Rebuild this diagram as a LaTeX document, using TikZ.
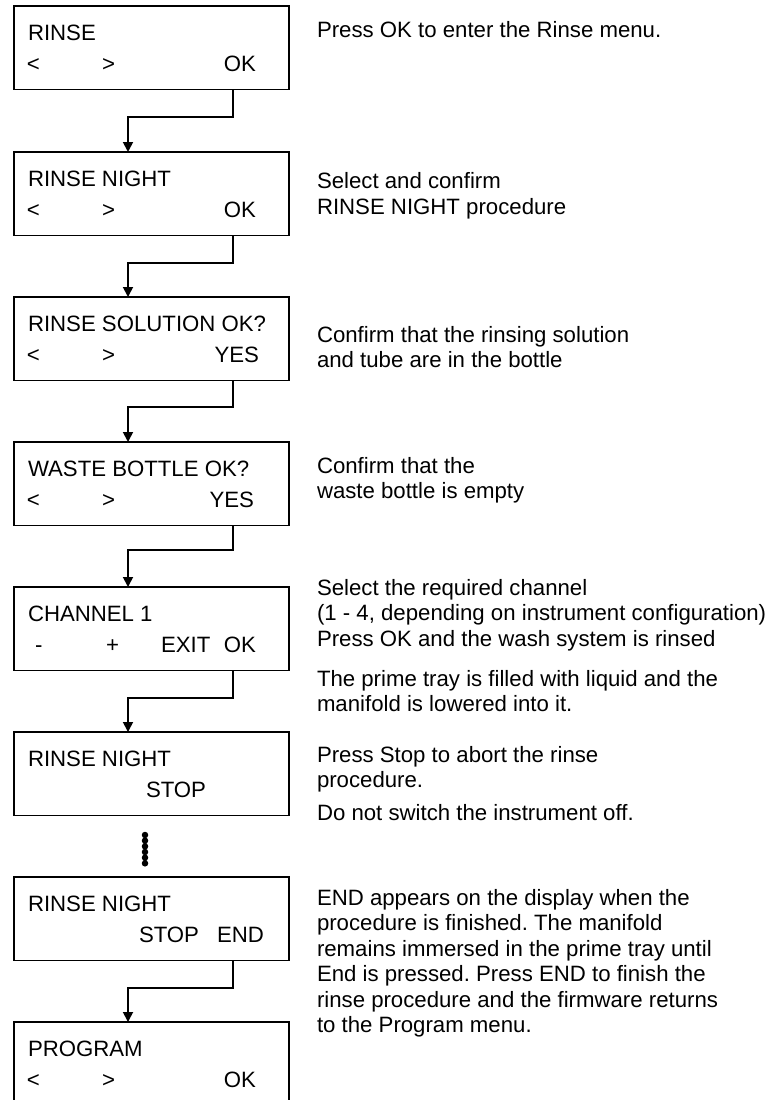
\documentclass[tikz,border=0pt]{standalone}
\usepackage{fontspec}
\setmainfont{Liberation Sans}
\usetikzlibrary{arrows.meta}
\frenchspacing
\begin{document}
\begin{tikzpicture}[x=1pt,y=-1pt,
  every node/.style={inner sep=0pt, outer sep=0pt, font=\fontsize{22.2}{25.7}\selectfont\frenchspacing},
  lcd/.style={draw, line width=1.7pt, rectangle, anchor=north west, minimum width=275pt, minimum height=83.5pt},
  key/.style={anchor=base west},
  keyr/.style={anchor=base east},
  note/.style={anchor=base west},
  conn/.style={line width=1.8pt, -{Triangle[width=10pt,length=10pt]}},
  dots/.style={line width=6.5pt, line cap=round, dash pattern=on 0pt off 5.667pt},
]
\useasboundingbox (0,0) rectangle (773,1100);
\clip (0,0) rectangle (773,1100);

% ---- display boxes ----
\node[lcd] (b1) at (14,6) {};
\node[key] (b1a) at (28,40.5) {RINSE};
\node[key] (b1b) at (27,71.5) {<};
\node[key] (b1c) at (102,71.5) {>};
\node[keyr] (b1d) at (256,71.5) {OK};

\node[lcd] (b2) at (14,152) {};
\node[key] (b2a) at (28,186.5) {RINSE NIGHT};
\node[key] (b2b) at (27,217.5) {<};
\node[key] (b2c) at (102,217.5) {>};
\node[keyr] (b2d) at (256,217.5) {OK};

\node[lcd] (b3) at (14,297) {};
\node[key] (b3a) at (28,331.5) {RINSE SOLUTION OK?};
\node[key] (b3b) at (27,362.5) {<};
\node[key] (b3c) at (102,362.5) {>};
\node[keyr] (b3d) at (259,362.5) {YES};

\node[lcd] (b4) at (14,442) {};
\node[key] (b4a) at (28,476.5) {WASTE BOTTLE OK?};
\node[key] (b4b) at (27,507.5) {<};
\node[key] (b4c) at (102,507.5) {>};
\node[keyr] (b4d) at (254,507.5) {YES};

\node[lcd] (b5) at (14,587) {};
\node[key] (b5a) at (28,621.5) {CHANNEL 1};
\node[key] (b5b) at (35,652.5) {-};
\node[key] (b5c) at (106,652.5) {+};
\node[key] (b5d) at (161,652.5) {EXIT};
\node[keyr] (b5e) at (256,652.5) {OK};

\node[lcd] (b6) at (14,732) {};
\node[key] (b6a) at (28,766.5) {RINSE NIGHT};
\node[key] (b6b) at (146,797.5) {STOP};

\node[lcd] (b7) at (14,877) {};
\node[key] (b7a) at (28,911.5) {RINSE NIGHT};
\node[key] (b7b) at (139,942.5) {STOP};
\node[key] (b7c) at (217,942.5) {END};

\node[lcd] (b8) at (14,1022) {};
\node[key] (b8a) at (28,1056.5) {PROGRAM};
\node[key] (b8b) at (27,1087.5) {<};
\node[key] (b8c) at (102,1087.5) {>};
\node[keyr] (b8d) at (256,1087.5) {OK};

% ---- connectors ----
\draw[conn] ([xshift=219]b1.south west) -- ++(0,27.5) -| ([xshift=114]b2.north west);
\draw[conn] ([xshift=219]b2.south west) -- ++(0,27.5) -| ([xshift=114]b3.north west);
\draw[conn] ([xshift=219]b3.south west) -- ++(0,26.5) -| ([xshift=114]b4.north west);
\draw[conn] ([xshift=219]b4.south west) -- ++(0,24.5) -| ([xshift=114]b5.north west);
\draw[conn] ([xshift=219]b5.south west) -- ++(0,27.5) -| ([xshift=114]b6.north west);
\draw[dots] ([xshift=131,yshift=-19.5]b6.south west) -- ([xshift=131,yshift=8]b7.north west);
\draw[conn] ([xshift=219]b7.south west) -- ++(0,27.5) -| ([xshift=114]b8.north west);

% ---- notes ----
\node[note] (n1) at (317,37) {Press OK to enter the Rinse menu.};
\node[note] (n2a) at (317,188) {Select and confirm};
\node[note] (n2b) at (317,214) {RINSE NIGHT procedure};
\node[note] (n3a) at (317,342) {Confirm that the rinsing solution};
\node[note] (n3b) at (317,367) {and tube are in the bottle};
\node[note] (n4a) at (317,473) {Confirm that the};
\node[note] (n4b) at (317,498) {waste bottle is empty};
\node[note] (n5a) at (317,595) {Select the required channel};
\node[note] (n5b) at (317,620.5) {(1 - 4, depending on instrument configuration)};
\node[note] (n5c) at (317,646.5) {Press OK and the wash system is rinsed};
\node[note] (n6a) at (317,686) {The prime tray is filled with liquid and the};
\node[note] (n6b) at (317,711.5) {manifold is lowered into it.};
\node[note] (n7a) at (317,762) {Press Stop to abort the rinse};
\node[note] (n7b) at (317,787.5) {procedure.};
\node[note] (n7c) at (317,820) {Do not switch the instrument off.};
\node[note] (n8a) at (317,905) {END appears on the display when the};
\node[note] (n8b) at (317,930.5) {procedure is finished. The manifold};
\node[note] (n8c) at (317,956) {remains immersed in the prime tray until};
\node[note] (n8d) at (317,981.5) {End is pressed. Press END to finish the};
\node[note] (n8e) at (317,1007) {rinse procedure and the firmware returns};
\node[note] (n8f) at (317,1032.5) {to the Program menu.};
\end{tikzpicture}
\end{document}
